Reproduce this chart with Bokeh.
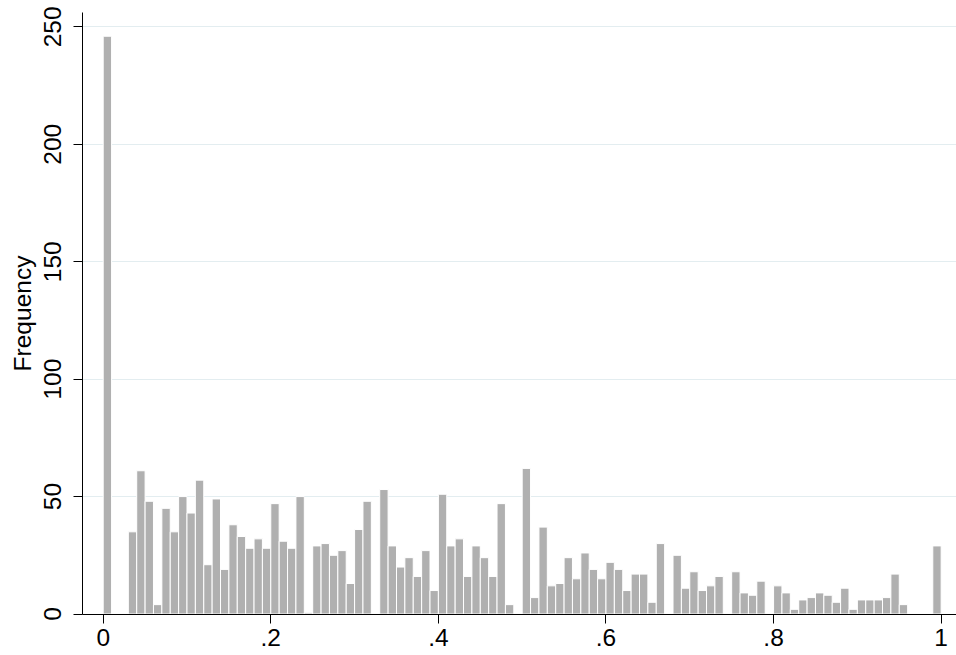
from bokeh.plotting import figure
from bokeh.models import Range1d, FixedTicker, ColumnDataSource
from bokeh.embed import file_html
from bokeh.resources import INLINE

# Histogram: 100 bins of width 0.01 on [0, 1]
bin_start = 0.0
bin_width = 0.01
freq = [246, 0, 0, 35, 61, 48, 4, 45, 35, 50,
        43, 57, 21, 49, 19, 38, 33, 28, 32, 28,
        47, 31, 28, 50, 0.5, 29, 30, 25, 27, 13,
        36, 48, 0, 53, 29, 20, 24, 16, 27, 10,
        51, 29, 32, 16, 29, 24, 16, 47, 4, 0,
        62, 7, 37, 12, 13, 24, 15, 26, 19, 15,
        22, 19, 10, 17, 17, 5, 30, 0, 25, 11,
        18, 10, 12, 16, 0, 18, 9, 8, 14, 0,
        12, 9, 2, 6, 7, 9, 8, 5, 11, 2,
        6, 6, 6, 7, 17, 4, 0, 0, 0, 29]

x_ticks = [0, 0.2, 0.4, 0.6, 0.8, 1.0]
x_tick_labels = ["0", ".2", ".4", ".6", ".8", "1"]
y_ticks = [0, 50, 100, 150, 200, 250]
y_label = "Frequency"

lefts, rights, tops = [], [], []
for i, f in enumerate(freq):
    if f > 0:
        lefts.append(bin_start + i * bin_width)
        rights.append(bin_start + (i + 1) * bin_width)
        tops.append(f)
src = ColumnDataSource(dict(left=lefts, right=rights, top=tops, bottom=[0] * len(tops)))

FONT = "Liberation Sans"
FS = "24.5px"

p = figure(width=956, height=655, output_backend="svg", toolbar_location=None,
           x_range=Range1d(-0.0247, 1.0183), y_range=Range1d(-0.2, 256.1),
           min_border_left=82, min_border_right=0, min_border_top=12, min_border_bottom=41)
p.outline_line_color = None
p.background_fill_color = "white"
p.border_fill_color = "white"

p.quad(left="left", right="right", top="top", bottom="bottom", source=src,
       fill_color="#b0b0b0", line_color="white", line_width=1)

p.xgrid.visible = False
p.ygrid.grid_line_color = "#e3edf0"
p.ygrid.grid_line_width = 1
p.ygrid.ticker = FixedTicker(ticks=y_ticks)

p.xaxis.ticker = FixedTicker(ticks=x_ticks)
p.xaxis.major_label_overrides = {t: l for t, l in zip(x_ticks, x_tick_labels)}
p.yaxis.ticker = FixedTicker(ticks=y_ticks)
p.yaxis.axis_label = y_label
p.yaxis.major_label_orientation = "vertical"

for ax in (p.xaxis[0], p.yaxis[0]):
    ax.axis_line_color = "black"
    ax.axis_line_width = 1
    ax.major_tick_line_color = "black"
    ax.major_tick_out = 9
    ax.major_tick_in = 0
    ax.minor_tick_line_color = None
    ax.major_label_text_font = FONT
    ax.major_label_text_font_size = FS
    ax.major_label_text_color = "black"
    ax.axis_label_text_font = FONT
    ax.axis_label_text_font_size = FS
    ax.axis_label_text_font_style = "normal"
    ax.axis_label_text_color = "black"

p.xaxis.major_label_standoff = 5
p.yaxis.major_label_standoff = 12
p.yaxis.axis_label_standoff = 6

open("out.html", "w").write(file_html(p, INLINE))
